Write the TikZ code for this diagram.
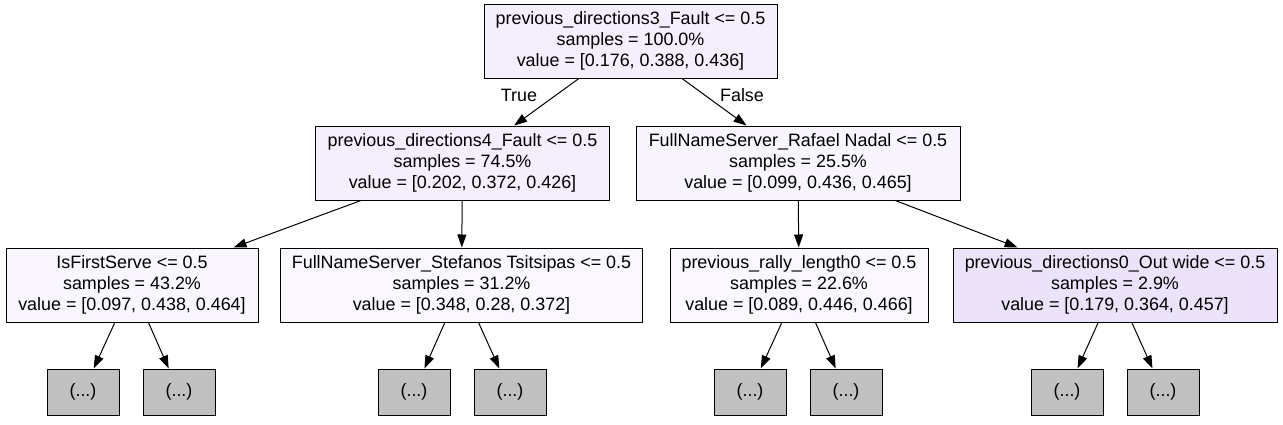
\documentclass[tikz,border=0pt]{standalone}
\usepackage{fontspec}
\setmainfont{Liberation Sans}
\usetikzlibrary{arrows.meta}
\definecolor{croot}{RGB}{245,239,253}
\definecolor{cla}{RGB}{244,238,253}
\definecolor{clb}{RGB}{249,245,254}
\definecolor{cma}{RGB}{249,246,254}
\definecolor{cmb}{RGB}{250,248,254}
\definecolor{cmc}{RGB}{250,248,254}
\definecolor{cmd}{RGB}{236,227,251}
\definecolor{leafgray}{RGB}{192,192,192}
\begin{document}
\begin{tikzpicture}[x=1pt,y=-1pt,
  treebox/.style={draw=black, line width=1pt, rectangle, align=center, inner sep=0pt,
    minimum height=74pt, font=\fontsize{17.9}{21}\selectfont},
  leafbox/.style={draw=black, line width=1pt, rectangle, fill=leafgray, inner sep=0pt,
    minimum width=72pt, minimum height=46pt, font=\fontsize{17.9}{21}\selectfont},
  conn/.style={draw=black, line width=1pt, -{Triangle[length=13pt,width=9pt]}},
  lbl/.style={inner sep=0pt, font=\fontsize{17.9}{21}\selectfont}]
\useasboundingbox (0,0) rectangle (1283,424);
\node[treebox, fill=croot, minimum width=293pt] (root) at (630.5,41)
  {previous\_directions3\_Fault <= 0.5\\samples = 100.0\%\\value = [0.176, 0.388, 0.436]};
\node[treebox, fill=cla, minimum width=294pt] (la) at (462.5,163)
  {previous\_directions4\_Fault <= 0.5\\samples = 74.5\%\\value = [0.202, 0.372, 0.426]};
\node[treebox, fill=clb, minimum width=324pt] (lb) at (798,163)
  {FullNameServer\_Rafael Nadal <= 0.5\\samples = 25.5\%\\value = [0.099, 0.436, 0.465]};
\node[treebox, fill=cma, minimum width=252pt] (ma) at (132,285)
  {IsFirstServe <= 0.5\\samples = 43.2\%\\value = [0.097, 0.438, 0.464]};
\node[treebox, fill=cmb, minimum width=362pt] (mb) at (461.5,285)
  {FullNameServer\_Stefanos Tsitsipas <= 0.5\\samples = 31.2\%\\value = [0.348, 0.28, 0.372]};
\node[treebox, fill=cmc, minimum width=258pt] (mc) at (799,285)
  {previous\_rally\_length0 <= 0.5\\samples = 22.6\%\\value = [0.089, 0.446, 0.466]};
\node[treebox, fill=cmd, minimum width=324pt] (md) at (1115,285)
  {previous\_directions0\_Out wide <= 0.5\\samples = 2.9\%\\value = [0.179, 0.364, 0.457]};
\node[leafbox] (f1) at (83,392) {(...)};
\node[leafbox] (f2) at (179,392) {(...)};
\node[leafbox] (f3) at (414,392) {(...)};
\node[leafbox] (f4) at (510,392) {(...)};
\node[leafbox] (f5) at (750,392) {(...)};
\node[leafbox] (f6) at (846,392) {(...)};
\node[leafbox] (f7) at (1067,392) {(...)};
\node[leafbox] (f8) at (1163,392) {(...)};
\node[lbl] (tl) at (519,95) {True};
\node[lbl] (fl) at (742,95) {False};
\draw[conn] (root) -- (la);
\draw[conn] (root) -- (lb);
\draw[conn] (la) -- (ma);
\draw[conn] (la) -- (mb);
\draw[conn] (lb) -- (mc);
\draw[conn] (lb) -- (md);
\draw[conn] (ma) -- (f1);
\draw[conn] (ma) -- (f2);
\draw[conn] (mb) -- (f3);
\draw[conn] (mb) -- (f4);
\draw[conn] (mc) -- (f5);
\draw[conn] (mc) -- (f6);
\draw[conn] (md) -- (f7);
\draw[conn] (md) -- (f8);
\end{tikzpicture}
\end{document}
